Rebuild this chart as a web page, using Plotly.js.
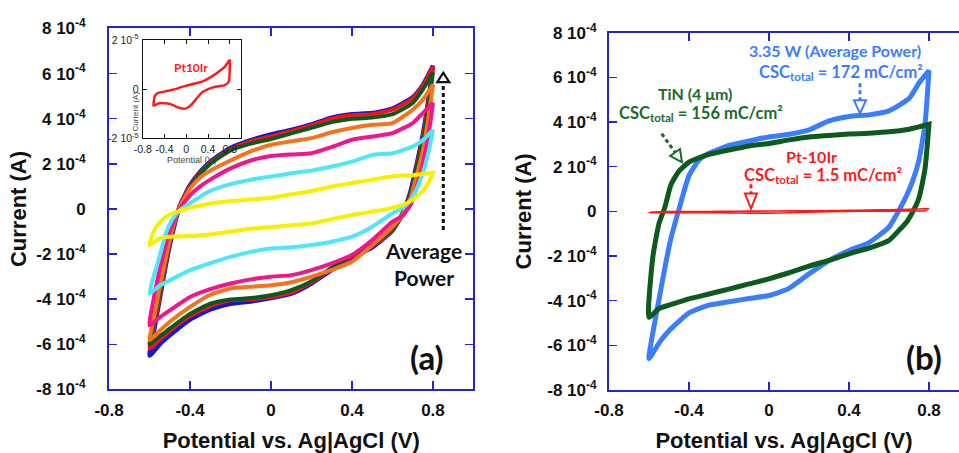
<!DOCTYPE html>
<html>
<head>
<meta charset="utf-8">
<script src="https://cdn.plot.ly/plotly-3.0.1.min.js"></script>
<style>html,body{margin:0;padding:0;background:#fff}#chart{width:959px;height:453px}</style>
</head>
<body>
<div id="chart"></div>
<script>
// ---------- data (currents in A, potentials in V vs Ag|AgCl) ----------
const potentialForward = [-0.6,-0.58,-0.55,-0.52,-0.49,-0.45,-0.4,-0.35,-0.3,-0.2,-0.1,0,0.1,0.2,0.3,0.4,0.5,0.6,0.7,0.75,0.8];
const potentialReverse = [0.8,0.78,0.75,0.72,0.69,0.65,0.6,0.5,0.4,0.3,0.2,0.1,0,-0.1,-0.2,-0.3,-0.4,-0.5,-0.55,-0.6];

// panel (a): seven CVs, from highest to lowest power
const blueFwd   = [-6.5e-4,-5.5e-4,-4.0e-4,-2.5e-4,-1.2e-4,0.15e-4,1.05e-4,1.65e-4,2.1e-4,2.7e-4,3.05e-4,3.3e-4,3.5e-4,3.75e-4,4.05e-4,4.2e-4,4.25e-4,4.45e-4,4.95e-4,5.5e-4,6.35e-4];
const blueRev   = [6.35e-4,5.0e-4,3.3e-4,2.0e-4,0.8e-4,-0.2e-4,-0.95e-4,-1.7e-4,-2.15e-4,-2.7e-4,-3.3e-4,-3.75e-4,-3.95e-4,-4.1e-4,-4.2e-4,-4.45e-4,-4.9e-4,-5.6e-4,-6.0e-4,-6.5e-4];
const redFwd    = [-6.2e-4,-5.3e-4,-3.9e-4,-2.4e-4,-1.1e-4,0.15e-4,1.0e-4,1.6e-4,2.05e-4,2.65e-4,3.0e-4,3.22e-4,3.45e-4,3.7e-4,4.0e-4,4.15e-4,4.2e-4,4.4e-4,4.9e-4,5.45e-4,6.3e-4];
const redRev    = [6.3e-4,4.9e-4,3.2e-4,1.9e-4,0.7e-4,-0.25e-4,-0.95e-4,-1.65e-4,-2.1e-4,-2.65e-4,-3.25e-4,-3.7e-4,-3.9e-4,-4.0e-4,-4.05e-4,-4.3e-4,-4.75e-4,-5.4e-4,-5.8e-4,-6.2e-4];
const greenFwd  = [-6.0e-4,-5.1e-4,-3.7e-4,-2.3e-4,-1.05e-4,0.1e-4,0.95e-4,1.55e-4,2.0e-4,2.6e-4,2.9e-4,3.1e-4,3.35e-4,3.6e-4,3.85e-4,4.0e-4,4.05e-4,4.2e-4,4.7e-4,5.3e-4,6.05e-4];
const greenRev  = [6.05e-4,4.7e-4,3.0e-4,1.8e-4,0.65e-4,-0.2e-4,-0.9e-4,-1.6e-4,-2.05e-4,-2.6e-4,-3.2e-4,-3.6e-4,-3.82e-4,-3.95e-4,-4.01e-4,-4.2e-4,-4.65e-4,-5.3e-4,-5.65e-4,-6.0e-4];
const orangeFwd = [-5.82e-4,-4.9e-4,-3.5e-4,-2.2e-4,-1.0e-4,0.1e-4,0.9e-4,1.4e-4,1.7e-4,2.15e-4,2.55e-4,2.85e-4,3.0e-4,3.14e-4,3.4e-4,3.59e-4,3.73e-4,3.81e-4,4.4e-4,4.84e-4,5.51e-4];
const orangeRev = [5.51e-4,4.2e-4,2.6e-4,1.5e-4,0.5e-4,-0.25e-4,-0.79e-4,-1.6e-4,-2.34e-4,-2.7e-4,-3.0e-4,-3.25e-4,-3.38e-4,-3.45e-4,-3.52e-4,-3.8e-4,-4.34e-4,-5.0e-4,-5.4e-4,-5.82e-4];
const pinkFwd   = [-5.16e-4,-4.0e-4,-2.7e-4,-1.6e-4,-0.75e-4,0.0e-4,0.6e-4,1.0e-4,1.3e-4,1.8e-4,2.15e-4,2.35e-4,2.42e-4,2.47e-4,2.75e-4,3.07e-4,3.21e-4,3.36e-4,3.81e-4,4.25e-4,4.7e-4];
const pinkRev   = [4.7e-4,3.4e-4,2.0e-4,1.0e-4,0.2e-4,-0.3e-4,-0.56e-4,-1.38e-4,-2.04e-4,-2.41e-4,-2.71e-4,-2.93e-4,-3.0e-4,-3.12e-4,-3.3e-4,-3.55e-4,-3.9e-4,-4.49e-4,-4.8e-4,-5.16e-4];
const cyanFwd   = [-3.75e-4,-3.0e-4,-2.1e-4,-1.1e-4,-0.5e-4,-0.05e-4,0.25e-4,0.55e-4,0.8e-4,1.1e-4,1.3e-4,1.44e-4,1.58e-4,1.7e-4,1.88e-4,2.1e-4,2.4e-4,2.47e-4,2.77e-4,3.05e-4,3.51e-4];
const cyanRev   = [3.51e-4,2.6e-4,1.6e-4,0.9e-4,0.4e-4,0.05e-4,-0.19e-4,-0.79e-4,-1.23e-4,-1.45e-4,-1.6e-4,-1.7e-4,-1.75e-4,-1.9e-4,-2.12e-4,-2.4e-4,-2.71e-4,-3.16e-4,-3.4e-4,-3.75e-4];
const yellowFwd = [-1.6e-4,-1.0e-4,-0.6e-4,-0.35e-4,-0.2e-4,-0.08e-4,0.06e-4,0.15e-4,0.24e-4,0.35e-4,0.42e-4,0.5e-4,0.65e-4,0.8e-4,1.0e-4,1.15e-4,1.3e-4,1.45e-4,1.5e-4,1.55e-4,1.6e-4];
const yellowRev = [1.6e-4,1.2e-4,0.8e-4,0.55e-4,0.35e-4,0.18e-4,0.05e-4,-0.12e-4,-0.27e-4,-0.45e-4,-0.64e-4,-0.72e-4,-0.8e-4,-0.88e-4,-1.0e-4,-1.13e-4,-1.2e-4,-1.23e-4,-1.3e-4,-1.6e-4];

// panel (b)
const powerFwd  = [-6.6e-4,-5.4e-4,-3.95e-4,-2.5e-4,-1.2e-4,0.1e-4,1.6e-4,2.3e-4,2.6e-4,2.95e-4,3.15e-4,3.33e-4,3.45e-4,3.65e-4,4.05e-4,4.25e-4,4.32e-4,4.5e-4,5.05e-4,5.75e-4,6.3e-4];
const powerRev  = [6.3e-4,3.9e-4,2.3e-4,1.4e-4,0.75e-4,0.05e-4,-0.7e-4,-1.4e-4,-1.75e-4,-2.2e-4,-2.8e-4,-3.45e-4,-3.77e-4,-3.9e-4,-4.05e-4,-4.2e-4,-4.55e-4,-5.35e-4,-5.9e-4,-6.6e-4];
const tinFwd    = [-4.74e-4,-2.0e-4,-0.55e-4,0.2e-4,1.2e-4,1.8e-4,2.2e-4,2.4e-4,2.55e-4,2.75e-4,2.93e-4,3.04e-4,3.2e-4,3.33e-4,3.4e-4,3.46e-4,3.5e-4,3.56e-4,3.68e-4,3.78e-4,3.9e-4];
const tinRev    = [3.9e-4,1.9e-4,0.6e-4,0.0e-4,-0.45e-4,-0.85e-4,-1.3e-4,-1.65e-4,-1.9e-4,-2.2e-4,-2.45e-4,-2.75e-4,-3.02e-4,-3.25e-4,-3.48e-4,-3.7e-4,-3.92e-4,-4.2e-4,-4.35e-4,-4.74e-4];

// Pt10Ir (inset, and the flat red loop of panel b)
const ptPotFwd = [-0.6,-0.58,-0.55,-0.5,-0.4,-0.3,-0.2,-0.1,0,0.1,0.2,0.3,0.4,0.5,0.6,0.7,0.8];
const ptPotRev = [0.8,0.78,0.7,0.6,0.5,0.4,0.3,0.2,0.1,0,-0.1,-0.2,-0.3,-0.4,-0.5,-0.6];
const ptFwd = [-0.67e-5,-0.3e-5,-0.2e-5,-0.14e-5,-0.1e-5,-0.05e-5,0.0,0.08e-5,0.14e-5,0.2e-5,0.25e-5,0.32e-5,0.43e-5,0.56e-5,0.72e-5,0.9e-5,1.2e-5];
const ptRev = [1.2e-5,0.3e-5,0.15e-5,0.12e-5,0.08e-5,0.0,-0.12e-5,-0.35e-5,-0.62e-5,-0.78e-5,-0.78e-5,-0.7e-5,-0.6e-5,-0.57e-5,-0.57e-5,-0.67e-5];

const mainTickVals = [-8e-4,-6e-4,-4e-4,-2e-4,0,2e-4,4e-4,6e-4,8e-4];
const mainTickText = ['-8 10<sup>-4</sup>','-6 10<sup>-4</sup>','-4 10<sup>-4</sup>','-2 10<sup>-4</sup>','0','2 10<sup>-4</sup>','4 10<sup>-4</sup>','6 10<sup>-4</sup>','8 10<sup>-4</sup>'];
const xTickVals = [-0.8,-0.4,0,0.4,0.8];
const xTickText = ['-0.8','-0.4','0','0.4','0.8'];
const insetYTickVals = [-2e-5,0,2e-5];
const insetYTickText = ['-2 10<sup>-5</sup>','0','2 10<sup>-5</sup>'];

// ---------- build ----------
const loopX = potentialForward.concat(potentialReverse);
const ptX = ptPotFwd.concat(ptPotRev);
function cv(name, fwd, rev, color, width, xa, ya, x) {
  return {type:'scatter', mode:'lines', name:name, x: x || loopX, y: fwd.concat(rev),
    xaxis:xa, yaxis:ya, line:{color:color, width:width, shape:'spline', smoothing:0.5}, showlegend:false, hoverinfo:'x+y+name'};
}
const traces = [
  cv('CV 1', blueFwd, blueRev, '#1414d2', 4.5, 'x', 'y'),
  cv('CV 2', redFwd, redRev, '#ff1010', 4, 'x', 'y'),
  cv('CV 3', greenFwd, greenRev, '#0c5a1a', 4, 'x', 'y'),
  cv('CV 4', orangeFwd, orangeRev, '#f5731a', 4, 'x', 'y'),
  cv('CV 5', pinkFwd, pinkRev, '#f0168c', 4, 'x', 'y'),
  cv('CV 6', cyanFwd, cyanRev, '#4ee6f8', 4, 'x', 'y'),
  cv('CV 7', yellowFwd, yellowRev, '#f8f000', 4, 'x', 'y'),
  cv('Pt10Ir (inset)', ptFwd, ptRev, '#ff1a1a', 2.5, 'x3', 'y3', ptX),
  cv('3.35 W (Average Power)', powerFwd, powerRev, '#3b7dff', 5, 'x2', 'y2'),
  cv('TiN (4 µm)', tinFwd, tinRev, '#0d5a1e', 5, 'x2', 'y2'),
  cv('Pt-10Ir', ptFwd, ptRev, '#ff1a1a', 1.6, 'x2', 'y2', ptX)
];

const AX = 'rgb(35,35,215)';
const tickFont = {family:'Liberation Sans', size:17, color:'#111', weight:'bold'};
const titleFont = {family:'Liberation Sans', size:22, color:'#111', weight:'bold'};
const annFont = 'Lato';
const insetFam = 'Liberation Sans';

function xAx(domain, range, anchor) {
  return {domain:domain, range:range, anchor:anchor, showline:true, linecolor:AX, linewidth:2, mirror:'allticks',
    ticks:'inside', ticklen:8, tickwidth:1.5, tickcolor:AX, tickvals:xTickVals, ticktext:xTickText,
    tickfont:tickFont, ticklabelstandoff:4, showgrid:false, zeroline:false, fixedrange:true,
    title:{text:'Potential vs. Ag|AgCl (V)', font:titleFont, standoff:17}};
}
function yAx(domain, anchor, mirror, standoff, tstand) {
  return {domain:domain, range:[-8e-4, 8e-4], anchor:anchor, showline:true, linecolor:AX, linewidth:2, mirror:mirror,
    ticks:'inside', ticklen:8, tickwidth:1.5, tickcolor:AX, tickvals:mainTickVals, ticktext:mainTickText,
    tickfont:tickFont, ticklabelstandoff:standoff, showgrid:false, zeroline:false, fixedrange:true,
    title:{text:'Current (A)', font:titleFont, standoff:tstand}};
}

const insetFont = {family:insetFam, size:10.5, color:'#222'};
const layout = {
  width:959, height:453, margin:{l:0, r:0, t:0, b:0}, paper_bgcolor:'#fff', plot_bgcolor:'rgba(0,0,0,0)',
  showlegend:false,
  xaxis: xAx([0.1137, 0.4937], [-0.8, 1.0], 'y'),
  yaxis: yAx([0.1402, 0.9371], 'x', 'allticks', 18, 4),
  xaxis2: xAx([0.6350, 1.0], [-0.8, 0.95], 'y2'),
  yaxis2: yAx([0.1391, 0.9278], 'x2', false, 7, 10),
  xaxis3: {domain:[0.1488, 0.2510], range:[-0.8, 1.0], anchor:'y3', showline:true, linecolor:'#111', linewidth:1, mirror:'allticks',
    ticks:'inside', ticklen:4, tickwidth:1, tickcolor:'#111', tickvals:xTickVals, ticktext:xTickText, tickfont:insetFont,
    ticklabelstandoff:1, showgrid:false, zeroline:false, fixedrange:true,
    title:{text:'Potential (V)', font:{family:insetFam, size:9, color:'#444'}, standoff:1}},
  yaxis3: {domain:[0.6947, 0.9117], range:[-2e-5, 2e-5], anchor:'x3', showline:true, linecolor:'#111', linewidth:1, mirror:'allticks',
    ticks:'inside', ticklen:4, tickwidth:1, tickcolor:'#111', tickvals:insetYTickVals, ticktext:insetYTickText, tickfont:insetFont,
    ticklabelstandoff:1, showgrid:false, zeroline:false, fixedrange:true},
  annotations: [
    {xref:'paper', yref:'paper', x:128/959, y:(453-90)/453, text:'Current (A)', textangle:-90, showarrow:false, font:{family:insetFam, size:8, color:'#444'}},
    {xref:'x', yref:'y', x:0.751, y:-2.44e-4, text:'Average<br>Power', showarrow:false, font:{family:annFont, size:21, color:'#111', weight:'bold'}},
    {xref:'x', yref:'y', x:0.77, y:-6.58e-4, text:'(a)', showarrow:false, font:{family:annFont, size:33, color:'#111', weight:'bold'}},
    {xref:'x3', yref:'y3', x:0.088, y:0.88e-5, text:'Pt10Ir', showarrow:false, font:{family:annFont, size:12, color:'#ff1a1a', weight:'bold'}},
    {xref:'x2', yref:'y2', x:0.775, y:-6.53e-4, text:'(b)', showarrow:false, font:{family:annFont, size:33, color:'#111', weight:'bold'}},
    {xref:'x2', yref:'y2', x:0.3325, y:7.19e-4, text:'3.35 W (Average Power)', showarrow:false, font:{family:annFont, size:16, color:'#3b7dff', weight:'bold'}},
    {xref:'x2', yref:'y2', x:-0.0615, y:6.2e-4, xanchor:'left', text:'CSC<sub>total</sub> = 172 mC/cm²', showarrow:false, font:{family:annFont, size:16.5, color:'#3b7dff', weight:'bold'}},
    {xref:'x2', yref:'y2', x:-0.37, y:5.29e-4, text:'TiN (4 μm)', showarrow:false, font:{family:annFont, size:16, color:'#1d6a2a', weight:'bold'}},
    {xref:'x2', yref:'y2', x:-0.76, y:4.38e-4, xanchor:'left', text:'CSC<sub>total</sub> = 156 mC/cm²', showarrow:false, font:{family:annFont, size:16.5, color:'#1d6a2a', weight:'bold'}},
    {xref:'x2', yref:'y2', x:0.2135, y:2.47e-4, text:'Pt-10Ir', showarrow:false, font:{family:annFont, size:16, color:'#ff1a1a', weight:'bold'}},
    {xref:'x2', yref:'y2', x:-0.1365, y:1.62e-4, xanchor:'left', text:'CSC<sub>total</sub> = 1.5 mC/cm²', showarrow:false, font:{family:annFont, size:16.5, color:'#ff1a1a', weight:'bold'}}
  ],
  shapes: [
    // (a) dashed arrow
    {type:'line', xref:'x', yref:'y', x0:0.851, x1:0.851, y0:-0.000093, y1:0.000562, line:{color:'#111', width:3, dash:'4px,3px'}},
    {type:'path', xref:'x', yref:'y', path:'M 0.8214,0.000562 L 0.851,0.000604 L 0.8806,0.000562 Z', fillcolor:'#fff', line:{color:'#111', width:2.2}},
    // (b) blue arrow
    {type:'line', xref:'x2', yref:'y2', x0:0.455, x1:0.455, y0:0.000574, y1:0.000498, line:{color:'#3b7dff', width:3, dash:'4px,3px'}},
    {type:'path', xref:'x2', yref:'y2', path:'M 0.425,0.000498 L 0.485,0.000498 L 0.455,0.000438 Z', fillcolor:'#fff', line:{color:'#3b7dff', width:2}},
    // (b) green arrow
    {type:'line', xref:'x2', yref:'y2', x0:-0.5365, x1:-0.4695, y0:0.0003484, y1:0.0002637, line:{color:'#1d6a2a', width:3, dash:'4px,3px'}},
    {type:'path', xref:'x2', yref:'y2', path:'M -0.445,0.0002794 L -0.435,0.0002197 L -0.494,0.000248 Z', fillcolor:'#fff', line:{color:'#1d6a2a', width:2}},
    // (b) red arrow
    {type:'line', xref:'x2', yref:'y2', x0:-0.09, x1:-0.09, y0:0.0001211, y1:0.0000794, line:{color:'#ff1a1a', width:3, dash:'4px,3px'}},
    {type:'path', xref:'x2', yref:'y2', path:'M -0.12,0.0000794 L -0.06,0.0000794 L -0.09,0.0000121 Z', fillcolor:'#fff', line:{color:'#ff1a1a', width:2}}
  ]
};

Plotly.newPlot('chart', traces, layout, {displayModeBar:false, staticPlot:true});
</script>
</body>
</html>
